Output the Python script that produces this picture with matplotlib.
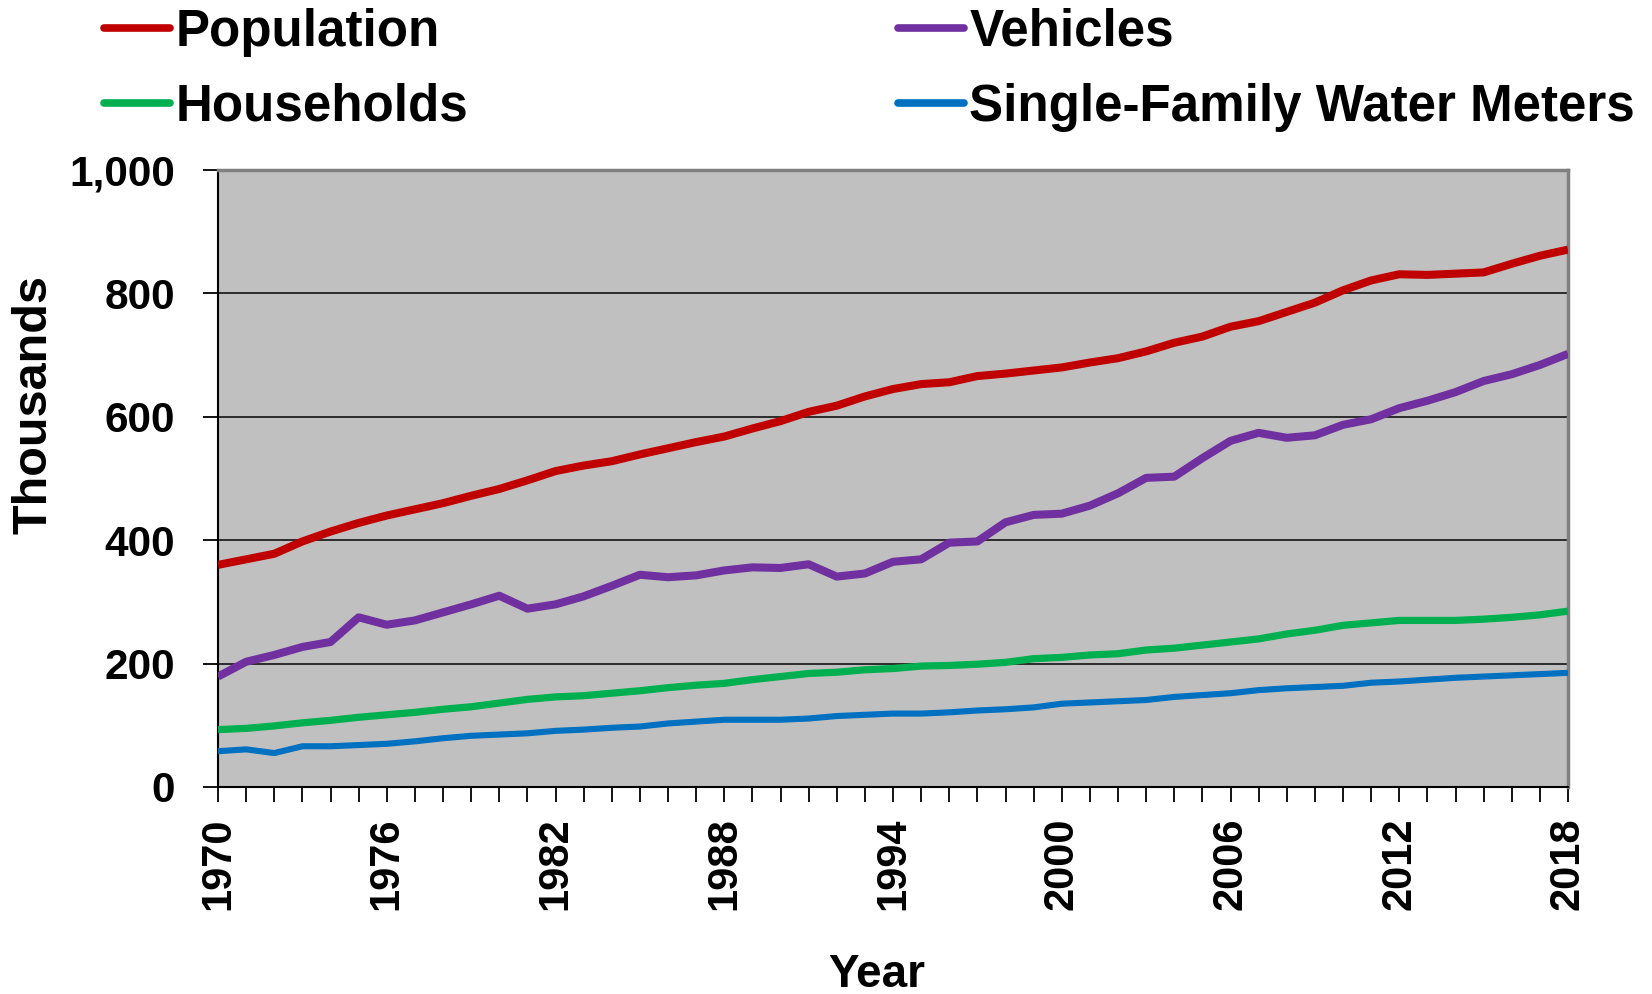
import matplotlib
matplotlib.use("Agg")
import matplotlib.pyplot as plt
from matplotlib.ticker import FuncFormatter

plt.rcParams['font.family'] = ['Liberation Sans', 'DejaVu Sans']
plt.rcParams['font.weight'] = 'bold'

years = list(range(1970, 2019))
population = [360, 369, 378, 398, 414, 428, 440, 450, 460, 472,
              483, 497, 512, 521, 528, 539, 549, 559, 568, 581,
              593, 608, 618, 633, 645, 653, 656, 666, 670, 675,
              680, 688, 695, 706, 720, 730, 746, 755, 770, 785,
              805, 821, 831, 830, 832, 834, 848, 861, 871]
vehicles = [179, 203, 214, 227, 235, 275, 263, 270, 283, 296,
            310, 289, 296, 309, 326, 344, 340, 343, 351, 356,
            355, 361, 341, 346, 365, 369, 396, 398, 429, 441,
            443, 456, 476, 501, 503, 533, 561, 574, 566, 570,
            587, 596, 614, 626, 640, 658, 669, 684, 702]
households = [93, 95, 99, 104, 108, 113, 117, 121, 126, 130,
              136, 142, 146, 148, 152, 156, 161, 165, 168, 174,
              179, 184, 186, 190, 192, 196, 197, 199, 202, 208,
              210, 214, 216, 222, 225, 230, 235, 240, 248, 254,
              262, 266, 270, 270, 270, 272, 275, 279, 285]
water_meters = [58, 61, 55, 66, 66, 68, 70, 74, 79, 83,
                85, 87, 91, 93, 96, 98, 103, 106, 109, 109,
                109, 111, 115, 117, 119, 119, 121, 124, 126, 129,
                135, 137, 139, 141, 146, 149, 152, 157, 160, 162,
                164, 169, 171, 174, 177, 179, 181, 183, 185]
y_ticks = [0, 200, 400, 600, 800, 1000]
x_label_years = [1970, 1976, 1982, 1988, 1994, 2000, 2006, 2012, 2018]

W, H = 1652, 994
fig = plt.figure(figsize=(W / 100, H / 100), dpi=100)
ax = fig.add_axes([218 / W, 1 - 787 / H, (1568 - 218) / W, (787 - 170) / H])
ax.set_facecolor('#C0C0C0')

l1, = ax.plot(years, population, color='#C00000', lw=5.8, solid_capstyle='butt', zorder=5)
l2, = ax.plot(years, vehicles, color='#7030A0', lw=5.8, solid_capstyle='butt', zorder=5)
l3, = ax.plot(years, households, color='#00B050', lw=5.2, solid_capstyle='butt', zorder=5)
l4, = ax.plot(years, water_meters, color='#0070C0', lw=4.4, solid_capstyle='butt', zorder=5)

ax.set_xlim(1970, 2018)
ax.set_ylim(0, 1000)
ax.set_yticks(y_ticks)
ax.yaxis.set_major_formatter(FuncFormatter(lambda v, p: f"{int(v):,}"))
ax.set_xticks(years)
ax.set_xticklabels([str(y) if y in x_label_years else '' for y in years], rotation=90)

ax.tick_params(axis='y', direction='out', length=11, width=1.3, pad=20, labelsize=30.5, color='black')
ax.tick_params(axis='x', direction='out', length=11, width=1.3, pad=11, labelsize=30, color='black')
for lab in ax.get_xticklabels() + ax.get_yticklabels():
    lab.set_fontweight('bold')

ax.yaxis.grid(True, color='#202020', lw=1.3)
ax.set_axisbelow(True)
for s in ['top', 'right']:
    ax.spines[s].set_color('#808080')
    ax.spines[s].set_linewidth(2.5)
for s in ['left', 'bottom']:
    ax.spines[s].set_color('black')
    ax.spines[s].set_linewidth(1.5)

fig.text(877 / W, 7 / H, 'Year', ha='center', va='baseline', fontsize=33, fontweight='bold')
fig.text(34 / W, 1 - 404 / H, 'Thousands', ha='center', va='center', rotation=90,
         fontsize=35, fontweight='bold')

leg = fig.legend([l1, l3, l2, l4],
                 ['Population', 'Households', 'Vehicles', 'Single-Family Water Meters'],
                 ncol=2, loc='upper left', bbox_to_anchor=(104 / W, 1 - 8 / H),
                 frameon=False, handlelength=1.3, handletextpad=0.1,
                 columnspacing=8.4, labelspacing=0.5, borderpad=0, borderaxespad=0,
                 prop={'weight': 'bold', 'size': 36.8})
for h in leg.legend_handles:
    h.set_linewidth(5.5)
    h.set_solid_capstyle('round')

fig.savefig('out.png', dpi=100)
